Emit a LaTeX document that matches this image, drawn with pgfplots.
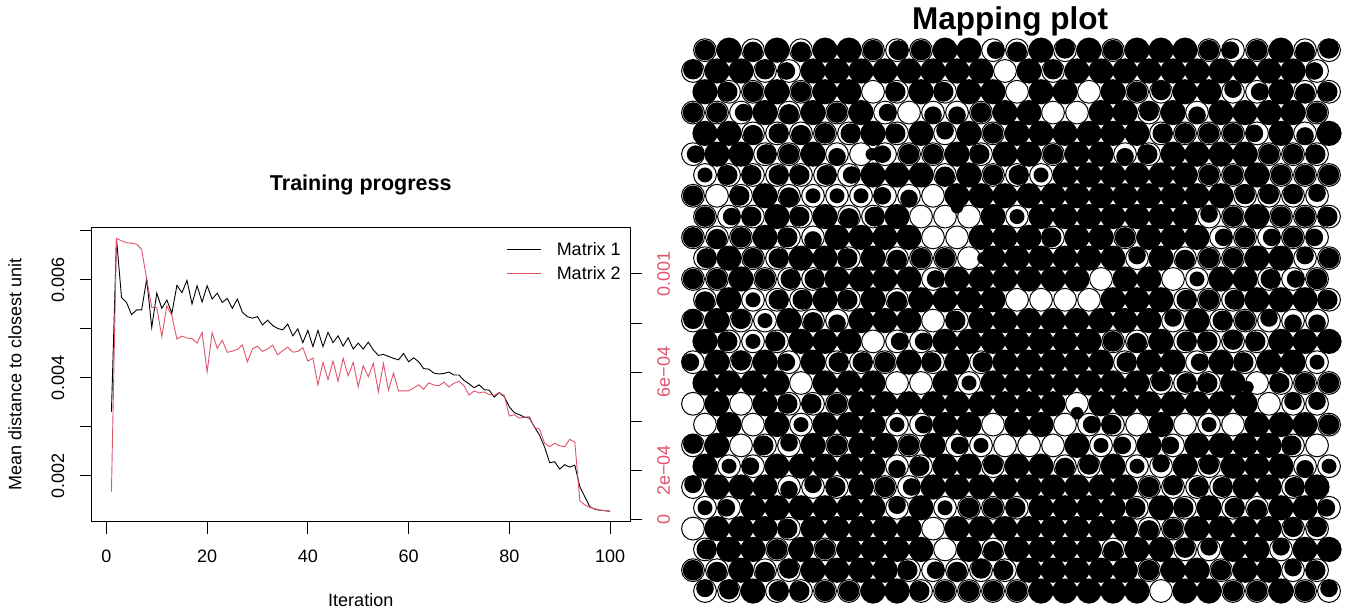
\documentclass[border=0pt]{standalone}
\usepackage{fontspec}
\setmainfont{Liberation Sans}
\usepackage{pgfplots}
\usepackage{pgfplotstable}
\pgfplotsset{compat=1.18}
\definecolor{rred}{HTML}{DF536B}
\pgfdeclareplotmark{mH}{\pgfpathcircle{\pgfpointorigin}{12.6pt}\pgfusepathqfill}
\pgfdeclareplotmark{mO}{\pgfpathcircle{\pgfpointorigin}{10.3pt}\pgfusepathqfill}
\pgfdeclareplotmark{mL}{\pgfpathcircle{\pgfpoint{1.5pt}{0pt}}{10pt}\pgfusepathqfill}
\pgfdeclareplotmark{mR}{\pgfpathcircle{\pgfpoint{-1.5pt}{0pt}}{10pt}\pgfusepathqfill}
\pgfdeclareplotmark{mT}{\pgfpathcircle{\pgfpoint{0pt}{-1.5pt}}{10pt}\pgfusepathqfill}
\pgfdeclareplotmark{mB}{\pgfpathcircle{\pgfpoint{0pt}{1.5pt}}{10pt}\pgfusepathqfill}
\pgfdeclareplotmark{ml}{\pgfpathcircle{\pgfpoint{2.6pt}{0pt}}{8.8pt}\pgfusepathqfill}
\pgfdeclareplotmark{mr}{\pgfpathcircle{\pgfpoint{-2.6pt}{0pt}}{8.8pt}\pgfusepathqfill}
\pgfdeclareplotmark{mt}{\pgfpathcircle{\pgfpoint{0pt}{-2.6pt}}{8.8pt}\pgfusepathqfill}
\pgfdeclareplotmark{mb}{\pgfpathcircle{\pgfpoint{0pt}{2.6pt}}{8.8pt}\pgfusepathqfill}
\pgfdeclareplotmark{mD}{\pgfpathcircle{\pgfpointorigin}{7.5pt}\pgfusepathqfill}
\pgfdeclareplotmark{mW}{\pgfpathcircle{\pgfpointorigin}{0.01pt}\pgfusepathqfill}
\pgfplotstableread{
i v
1 0.00331
2 0.00685
3 0.00564
4 0.00554
5 0.00529
6 0.00539
7 0.00539
8 0.00602
9 0.00503
10 0.00573
11 0.00542
12 0.00559
13 0.00532
14 0.00589
15 0.00574
16 0.00599
17 0.00551
18 0.00588
19 0.00555
20 0.00588
21 0.00561
22 0.00573
23 0.00554
24 0.00562
25 0.00542
26 0.00561
27 0.00534
28 0.00525
29 0.00522
30 0.00525
31 0.00508
32 0.00518
33 0.00507
34 0.00501
35 0.00498
36 0.00510
37 0.00486
38 0.00500
39 0.00472
40 0.00497
41 0.00464
42 0.00497
43 0.00464
44 0.00493
45 0.00472
46 0.00486
47 0.00465
48 0.00482
49 0.00459
50 0.00471
51 0.00459
52 0.00473
53 0.00457
54 0.00446
55 0.00448
56 0.00444
57 0.00440
58 0.00437
59 0.00450
60 0.00433
61 0.00441
62 0.00433
63 0.00419
64 0.00418
65 0.00410
66 0.00408
67 0.00409
68 0.00412
69 0.00406
70 0.00406
71 0.00395
72 0.00388
73 0.00380
74 0.00386
75 0.00376
76 0.00375
77 0.00361
78 0.00370
79 0.00362
80 0.00341
81 0.00329
82 0.00325
83 0.00320
84 0.00318
85 0.00300
86 0.00283
87 0.00259
88 0.00227
89 0.00229
90 0.00214
91 0.00223
92 0.00218
93 0.00222
94 0.00178
95 0.00157
96 0.00137
97 0.00132
98 0.00130
99 0.00129
100 0.00128
}\matrixone
\pgfplotstableread{
i v
1 0.000114
2 0.001145
3 0.001135
4 0.001127
5 0.001125
6 0.001121
7 0.0011
8 0.000978
9 0.000864
10 0.000864
11 0.000745
12 0.00087
13 0.00083
14 0.000735
15 0.000747
16 0.000739
17 0.000737
18 0.000719
19 0.000762
20 0.000602
21 0.000761
22 0.000697
23 0.00073
24 0.000681
25 0.000686
26 0.000693
27 0.000711
28 0.000642
29 0.000695
30 0.000706
31 0.000685
32 0.000695
33 0.00071
34 0.000671
35 0.000688
36 0.000702
37 0.000682
38 0.000684
39 0.0007
40 0.000645
41 0.000658
42 0.000548
43 0.00064
44 0.00057
45 0.000646
46 0.000563
47 0.000657
48 0.000586
49 0.00064
50 0.000541
51 0.000627
52 0.000582
53 0.000636
54 0.00052
55 0.000636
56 0.000527
57 0.000596
58 0.000524
59 0.000524
60 0.000524
61 0.000536
62 0.000549
63 0.000531
64 0.000557
65 0.000548
66 0.000545
67 0.00056
68 0.00054
69 0.000555
70 0.000563
71 0.000545
72 0.000507
73 0.000524
74 0.000516
75 0.00052
76 0.00051
77 0.000506
78 0.000517
79 0.000505
80 0.000422
81 0.000427
82 0.000413
83 0.000417
84 0.000419
85 0.000374
86 0.000369
87 0.000311
88 0.000297
89 0.000311
90 0.000301
91 0.000297
92 0.000327
93 0.000316
94 0.000077
95 0.00006
96 0.00005
97 0.000044
98 0.000039
99 0.000037
100 0.000035
}\matrixtwo
\pgfplotstableread{
x y t
0 26 O
1 26 H
2 26 T
3 26 H
4 26 T
5 26 H
6 26 H
7 26 O
8 26 L
9 26 O
10 26 H
11 26 H
12 26 l
13 26 T
14 26 H
15 26 B
16 26 H
17 26 O
18 26 H
19 26 H
20 26 H
21 26 O
22 26 r
23 26 O
24 26 H
25 26 T
26 26 B
-0.5 25 B
0.5 25 H
1.5 25 H
2.5 25 B
3.5 25 r
4.5 25 H
5.5 25 H
6.5 25 H
7.5 25 H
8.5 25 H
9.5 25 H
10.5 25 H
11.5 25 H
12.5 25 W
13.5 25 H
14.5 25 B
15.5 25 H
16.5 25 H
17.5 25 H
18.5 25 H
19.5 25 H
20.5 25 H
21.5 25 H
22.5 25 H
23.5 25 H
24.5 25 H
25.5 25 r
0 24 H
1 24 R
2 24 O
3 24 H
4 24 O
5 24 H
6 24 H
7 24 W
8 24 R
9 24 H
10 24 R
11 24 H
12 24 H
13 24 W
14 24 H
15 24 H
16 24 W
17 24 H
18 24 O
19 24 B
20 24 H
21 24 H
22 24 b
23 24 l
24 24 H
25 24 T
26 24 R
-0.5 23 O
0.5 23 O
1.5 23 l
2.5 23 H
3.5 23 T
4.5 23 H
5.5 23 O
6.5 23 H
7.5 23 l
8.5 23 W
9.5 23 t
10.5 23 t
11.5 23 O
12.5 23 H
13.5 23 H
14.5 23 W
15.5 23 W
16.5 23 H
17.5 23 H
18.5 23 B
19.5 23 H
20.5 23 t
21.5 23 H
22.5 23 H
23.5 23 H
24.5 23 H
25.5 23 O
0 22 H
1 22 H
2 22 T
3 22 L
4 22 T
5 22 O
6 22 L
7 22 H
8 22 R
9 22 H
10 22 b
11 22 H
12 22 O
13 22 H
14 22 H
15 22 H
16 22 H
17 22 H
18 22 H
19 22 L
20 22 O
21 22 O
22 22 O
23 22 r
24 22 H
25 22 t
26 22 H
-0.5 21 l
0.5 21 H
1.5 21 H
2.5 21 L
3.5 21 O
4.5 21 H
5.5 21 t
6.5 21 W
7.5 21 r
8.5 21 O
9.5 21 O
10.5 21 H
11.5 21 R
12.5 21 H
13.5 21 H
14.5 21 O
15.5 21 H
16.5 21 H
17.5 21 t
18.5 21 R
19.5 21 H
20.5 21 H
21.5 21 H
22.5 21 H
23.5 21 O
24.5 21 O
25.5 21 R
0 20 D
1 20 R
2 20 R
3 20 L
4 20 R
5 20 L
6 20 l
7 20 H
8 20 H
9 20 H
10 20 T
11 20 H
12 20 O
13 20 L
14 20 D
15 20 H
16 20 H
17 20 H
18 20 H
19 20 H
20 20 H
21 20 O
22 20 O
23 20 H
24 20 O
25 20 O
26 20 O
-0.5 19 O
0.5 19 W
1.5 19 R
2.5 19 H
3.5 19 T
4.5 19 D
5.5 19 D
6.5 19 D
7.5 19 r
8.5 19 t
9.5 19 W
10.5 19 H
11.5 19 H
12.5 19 H
13.5 19 H
14.5 19 H
15.5 19 H
16.5 19 H
17.5 19 H
18.5 19 H
19.5 19 H
20.5 19 H
21.5 19 H
22.5 19 B
23.5 19 B
24.5 19 B
25.5 19 b
0 18 O
1 18 l
2 18 R
3 18 H
4 18 R
5 18 H
6 18 T
7 18 L
8 18 H
9 18 W
10 18 W
11 18 W
12 18 H
13 18 D
14 18 H
15 18 H
16 18 H
17 18 H
18 18 H
19 18 H
20 18 H
21 18 b
22 18 O
23 18 H
24 18 O
25 18 O
26 18 R
-0.5 17 O
0.5 17 T
1.5 17 O
2.5 17 H
3.5 17 R
4.5 17 t
5.5 17 H
6.5 17 H
7.5 17 H
8.5 17 H
9.5 17 W
10.5 17 W
11.5 17 H
12.5 17 H
13.5 17 H
14.5 17 R
15.5 17 H
16.5 17 H
17.5 17 O
18.5 17 H
19.5 17 H
20.5 17 H
21.5 17 l
22.5 17 O
23.5 17 l
24.5 17 O
25.5 17 r
0 16 L
1 16 H
2 16 O
3 16 L
4 16 H
5 16 H
6 16 R
7 16 H
8 16 T
9 16 O
10 16 O
11 16 W
12 16 H
13 16 H
14 16 H
15 16 H
16 16 H
17 16 H
18 16 b
19 16 H
20 16 T
21 16 O
22 16 O
23 16 H
24 16 H
25 16 b
26 16 O
-0.5 15 O
0.5 15 O
1.5 15 H
2.5 15 O
3.5 15 L
4.5 15 L
5.5 15 H
6.5 15 H
7.5 15 H
8.5 15 H
9.5 15 l
10.5 15 H
11.5 15 H
12.5 15 H
13.5 15 H
14.5 15 H
15.5 15 H
16.5 15 W
17.5 15 H
18.5 15 H
19.5 15 W
20.5 15 D
21.5 15 H
22.5 15 H
23.5 15 L
24.5 15 l
25.5 15 O
0 14 T
1 14 H
2 14 D
3 14 L
4 14 L
5 14 H
6 14 R
7 14 H
8 14 T
9 14 H
10 14 H
11 14 H
12 14 H
13 14 W
14 14 W
15 14 W
16 14 W
17 14 H
18 14 H
19 14 H
20 14 L
21 14 O
22 14 L
23 14 H
24 14 H
25 14 H
26 14 R
-0.5 13 B
0.5 13 H
1.5 13 B
2.5 13 D
3.5 13 H
4.5 13 T
5.5 13 t
6.5 13 H
7.5 13 H
8.5 13 H
9.5 13 W
10.5 13 R
11.5 13 H
12.5 13 H
13.5 13 H
14.5 13 H
15.5 13 H
16.5 13 H
17.5 13 H
18.5 13 H
19.5 13 b
20.5 13 H
21.5 13 L
22.5 13 O
23.5 13 b
24.5 13 t
25.5 13 t
0 12 H
1 12 R
2 12 D
3 12 R
4 12 H
5 12 H
6 12 H
7 12 W
8 12 l
9 12 l
10 12 H
11 12 H
12 12 H
13 12 H
14 12 H
15 12 H
16 12 H
17 12 O
18 12 T
19 12 H
20 12 L
21 12 R
22 12 B
23 12 R
24 12 H
25 12 H
26 12 H
-0.5 11 r
0.5 11 H
1.5 11 B
2.5 11 H
3.5 11 r
4.5 11 H
5.5 11 L
6.5 11 L
7.5 11 O
8.5 11 H
9.5 11 R
10.5 11 H
11.5 11 L
12.5 11 H
13.5 11 H
14.5 11 H
15.5 11 H
16.5 11 H
17.5 11 L
18.5 11 H
19.5 11 H
20.5 11 l
21.5 11 H
22.5 11 R
23.5 11 H
24.5 11 H
25.5 11 D
0 10 H
1 10 H
2 10 H
3 10 H
4 10 W
5 10 H
6 10 H
7 10 H
8 10 W
9 10 W
10 10 H
11 10 D
12 10 H
13 10 H
14 10 H
15 10 H
16 10 H
17 10 H
18 10 H
19 10 B
20 10 L
21 10 R
22 10 H
23 10 W
24 10 R
25 10 O
26 10 O
-0.5 9 W
0.5 9 H
1.5 9 W
2.5 9 H
3.5 9 R
4.5 9 R
5.5 9 O
6.5 9 H
7.5 9 H
8.5 9 H
9.5 9 H
10.5 9 H
11.5 9 H
12.5 9 H
13.5 9 H
14.5 9 H
15.5 9 W
16.5 9 H
17.5 9 H
18.5 9 H
19.5 9 H
20.5 9 H
21.5 9 H
22.5 9 H
23.5 9 W
24.5 9 b
25.5 9 b
0 8 W
1 8 H
2 8 W
3 8 H
4 8 D
5 8 H
6 8 H
7 8 H
8 8 D
9 8 l
10 8 H
11 8 H
12 8 W
13 8 H
14 8 H
15 8 W
16 8 l
17 8 R
18 8 W
19 8 H
20 8 W
21 8 D
22 8 W
23 8 H
24 8 H
25 8 H
26 8 O
-0.5 7 B
0.5 7 H
1.5 7 W
2.5 7 R
3.5 7 b
4.5 7 H
5.5 7 O
6.5 7 H
7.5 7 H
8.5 7 O
9.5 7 H
10.5 7 l
11.5 7 D
12.5 7 W
13.5 7 W
14.5 7 W
15.5 7 H
16.5 7 D
17.5 7 r
18.5 7 H
19.5 7 r
20.5 7 H
21.5 7 H
22.5 7 H
23.5 7 H
24.5 7 R
25.5 7 W
0 6 H
1 6 D
2 6 r
3 6 H
4 6 H
5 6 H
6 6 H
7 6 H
8 6 t
9 6 R
10 6 H
11 6 H
12 6 B
13 6 H
14 6 H
15 6 T
16 6 B
17 6 H
18 6 D
19 6 b
20 6 H
21 6 B
22 6 H
23 6 H
24 6 H
25 6 t
26 6 D
-0.5 5 b
0.5 5 H
1.5 5 H
2.5 5 H
3.5 5 t
4.5 5 b
5.5 5 R
6.5 5 H
7.5 5 O
8.5 5 l
9.5 5 H
10.5 5 H
11.5 5 H
12.5 5 H
13.5 5 H
14.5 5 H
15.5 5 H
16.5 5 H
17.5 5 H
18.5 5 O
19.5 5 B
20.5 5 L
21.5 5 L
22.5 5 H
23.5 5 H
24.5 5 L
25.5 5 H
0 4 D
1 4 r
2 4 H
3 4 H
4 4 H
5 4 H
6 4 H
7 4 H
8 4 b
9 4 H
10 4 D
11 4 O
12 4 O
13 4 R
14 4 H
15 4 H
16 4 H
17 4 H
18 4 R
19 4 H
20 4 R
21 4 H
22 4 L
23 4 T
24 4 H
25 4 H
26 4 r
-0.5 3 W
0.5 3 H
1.5 3 H
2.5 3 H
3.5 3 R
4.5 3 H
5.5 3 H
6.5 3 H
7.5 3 H
8.5 3 H
9.5 3 W
10.5 3 H
11.5 3 H
12.5 3 H
13.5 3 H
14.5 3 H
15.5 3 H
16.5 3 H
17.5 3 H
18.5 3 T
19.5 3 O
20.5 3 H
21.5 3 H
22.5 3 H
23.5 3 H
24.5 3 B
25.5 3 B
0 2 L
1 2 H
2 2 H
3 2 O
4 2 H
5 2 O
6 2 H
7 2 H
8 2 H
9 2 H
10 2 W
11 2 H
12 2 T
13 2 H
14 2 H
15 2 H
16 2 H
17 2 T
18 2 H
19 2 H
20 2 B
21 2 b
22 2 H
23 2 H
24 2 b
25 2 H
26 2 H
-0.5 1 O
0.5 1 T
1.5 1 H
2.5 1 T
3.5 1 B
4.5 1 H
5.5 1 H
6.5 1 H
7.5 1 H
8.5 1 R
9.5 1 l
10.5 1 T
11.5 1 B
12.5 1 R
13.5 1 H
14.5 1 H
15.5 1 H
16.5 1 H
17.5 1 H
18.5 1 O
19.5 1 H
20.5 1 H
21.5 1 O
22.5 1 H
23.5 1 H
24.5 1 b
25.5 1 R
0 0 b
1 0 B
2 0 H
3 0 L
4 0 R
5 0 O
6 0 O
7 0 H
8 0 H
9 0 R
10 0 O
11 0 O
12 0 O
13 0 O
14 0 H
15 0 H
16 0 H
17 0 H
18 0 H
19 0 W
20 0 H
21 0 H
22 0 O
23 0 O
24 0 H
25 0 O
26 0 b
}\cells
\begin{document}
\begin{tikzpicture}[x=1pt,y=1pt]
\useasboundingbox (0,0) rectangle (1346,610);
\begin{axis}[
  at={(91.5pt,88pt)},anchor=south west,scale only axis,
  width=538.5pt,height=294.5pt,
  xmin=-2.96,xmax=103.96,ymin=0.00106,ymax=0.00707,
  axis line style={line width=1pt},
  tick style={black,line width=1pt},
  major tick length=12pt,tick align=outside,
  xtick pos=bottom,ytick pos=left,
  xtick={0,20,40,60,80,100},xticklabels={0,20,40,60,80,100},
  ytick={0.002,0.003,0.004,0.005,0.006,0.007},
  yticklabels={0.002,,0.004,,0.006,},
  scaled y ticks=false,
  tick label style={font=\fontsize{18}{20}\selectfont},
  xticklabel style={inner sep=0pt,yshift=-16pt},
  yticklabel style={rotate=90,anchor=south,inner sep=0pt,yshift=15pt},
  xlabel={Iteration},ylabel={Mean distance to closest unit},
  label style={font=\fontsize{18}{20}\selectfont},
  xlabel style={at={(axis description cs:0.5,-0.265)},anchor=center},
  ylabel style={at={(axis description cs:-0.142,0.5)},anchor=center,rotate=0},
  title={\bfseries Training progress},
  title style={font=\fontsize{21.5}{24}\selectfont,at={(axis description cs:0.5,1.123)},anchor=center},
]
\addplot[black,line width=0.9pt] table[x=i,y=v] {\matrixone};
\end{axis}
\begin{axis}[
  at={(91.5pt,88pt)},anchor=south west,scale only axis,
  width=538.5pt,height=294.5pt,
  xmin=-2.96,xmax=103.96,ymin=-0.0000094,ymax=0.001189,
  axis x line=none,axis y line*=right,
  axis line style={line width=1pt},
  tick style={black,line width=1pt},
  major tick length=12pt,tick align=outside,
  ytick={0,0.0002,0.0004,0.0006,0.0008,0.001},
  yticklabels={0,2e−04,,6e−04,,0.001},
  scaled y ticks=false,
  tick label style={font=\fontsize{18}{20}\selectfont,text=rred},
  yticklabel style={rotate=90,anchor=north,inner sep=0pt,yshift=-15pt},
  legend style={at={(axis description cs:0.77,0.951)},anchor=north west,draw=none,fill=none,
    font=\fontsize{18}{20}\selectfont,inner sep=0pt,row sep=9.5pt,
    nodes={inner sep=0pt,text height=13pt,text depth=1.5pt,anchor=west}},
  legend cell align=left,
  legend image code/.code={\draw[#1,line width=0.9pt] (0pt,0pt) -- (34pt,0pt);},
]
\addlegendimage{black}
\addlegendentry{\hspace{15.5pt}Matrix 1}
\addplot[rred,line width=0.9pt] table[x=i,y=v] {\matrixtwo};
\addlegendentry{\hspace{15.5pt}Matrix 2}
\end{axis}
\begin{axis}[
  at={(680pt,0pt)},anchor=south west,scale only axis,
  width=666pt,height=580pt,
  xmin=-1.0417,xmax=26.708,ymin=-0.913,ymax=26.97,
  hide axis,clip=false,
  title={\bfseries Mapping plot},
  title style={font=\fontsize{31.5}{34}\selectfont,at={(axis description cs:0.4955,1.005)},anchor=center},
]
\addplot[only marks,mark=*,mark size=11.4pt,mark options={fill=white,draw=black,line width=1pt}] table[x=x,y=y] {\cells};
\addplot[scatter,only marks,scatter src=explicit symbolic,
  scatter/classes={
    H={mark=mH,black},O={mark=mO,black},
    L={mark=mL,black},R={mark=mR,black},T={mark=mT,black},B={mark=mB,black},
    l={mark=ml,black},r={mark=mr,black},t={mark=mt,black},b={mark=mb,black},
    D={mark=mD,black},W={mark=mW,white}
  }] table[x=x,y=y,meta=t] {\cells};
\addplot[only marks,mark=*,mark size=6pt,black] coordinates {(6.95,21) (10.5,18.45) (11.6,16) (15.5,8.55) (22.6,9.8)};
\end{axis}
\end{tikzpicture}
\end{document}
